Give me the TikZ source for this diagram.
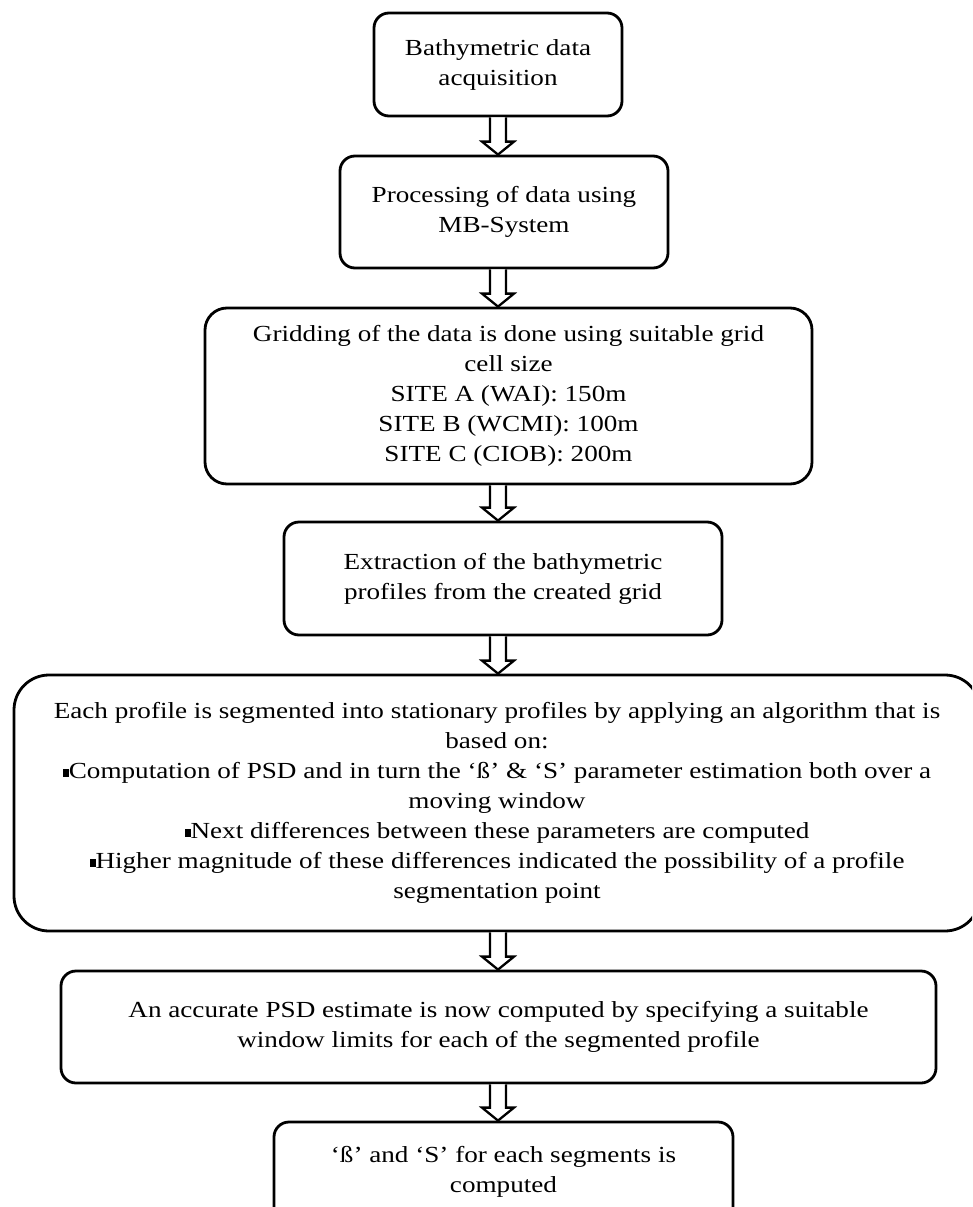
\documentclass[tikz,border=0pt]{standalone}
\usepackage{fontspec}
\setmainfont{Liberation Serif}[FakeStretch=1.18]
\usetikzlibrary{calc}
\newcommand\sqbul{\rule[2pt]{6pt}{8pt}}
\newcommand\hollowarrow[2]{%
  \draw[arrowline] ($(ax |- #1.south)+(-8,0)$) -- ($(ax |- #2.north)+(-8,-13)$)
    -- ($(ax |- #2.north)+(-16,-13)$) -- (ax |- #2.north)
    -- ($(ax |- #2.north)+(16,-13)$) -- ($(ax |- #2.north)+(8,-13)$)
    -- ($(ax |- #1.south)+(8,0)$);}
\begin{document}
\begin{tikzpicture}[x=1pt,y=-1pt,
  flowbox/.style={draw=black, line width=2.8pt, align=center, inner sep=0pt,
    font=\fontsize{23}{30}\selectfont, text=black},
  arrowline/.style={draw=black, line width=2.3pt, line join=miter, fill=white}]
\useasboundingbox (0,0) rectangle (972,1207);
\clip (0,0) rectangle (972,1207);
\coordinate (ax) at (498,0);
\node[flowbox, minimum width=248pt, minimum height=103pt, rounded corners=15pt] (b1) at (498,64.5)
  {Bathymetric data\\acquisition};
\node[flowbox, minimum width=328pt, minimum height=112pt, rounded corners=15pt] (b2) at (504,212)
  {Processing of data using\\MB-System};
\node[flowbox, minimum width=607pt, minimum height=176pt, rounded corners=22pt] (b3) at (508.5,396)
  {Gridding of the data is done using suitable grid\\cell size\\SITE A (WAI): 150m\\SITE B (WCMI): 100m\\SITE C (CIOB): 200m};
\node[flowbox, minimum width=438pt, minimum height=113pt, rounded corners=15pt] (b4) at (503,578.5)
  {Extraction of the bathymetric\\profiles from the created grid};
\node[flowbox, minimum width=966pt, minimum height=256pt, rounded corners=35pt] (b5) at (497,803)
  {Each profile is segmented into stationary profiles by applying an algorithm that is\\
   based on:\\
   \sqbul Computation of PSD and in turn the ‘ß’ \& ‘S’ parameter estimation both over a\\
   moving window\\
   \sqbul Next differences between these parameters are computed\\
   \sqbul Higher magnitude of these differences indicated the possibility of a profile\\
   segmentation point};
\node[flowbox, minimum width=875pt, minimum height=112pt, rounded corners=15pt] (b6) at (498.5,1027)
  {An accurate PSD estimate is now computed by specifying a suitable\\window limits for each of the segmented profile};
\node[flowbox, minimum width=459pt, minimum height=100pt, rounded corners=15pt] (b7) at (503.5,1172)
  {‘ß’ and ‘S’ for each segments is\\computed};
\hollowarrow{b1}{b2}
\hollowarrow{b2}{b3}
\hollowarrow{b3}{b4}
\hollowarrow{b4}{b5}
\hollowarrow{b5}{b6}
\hollowarrow{b6}{b7}
\end{tikzpicture}
\end{document}
